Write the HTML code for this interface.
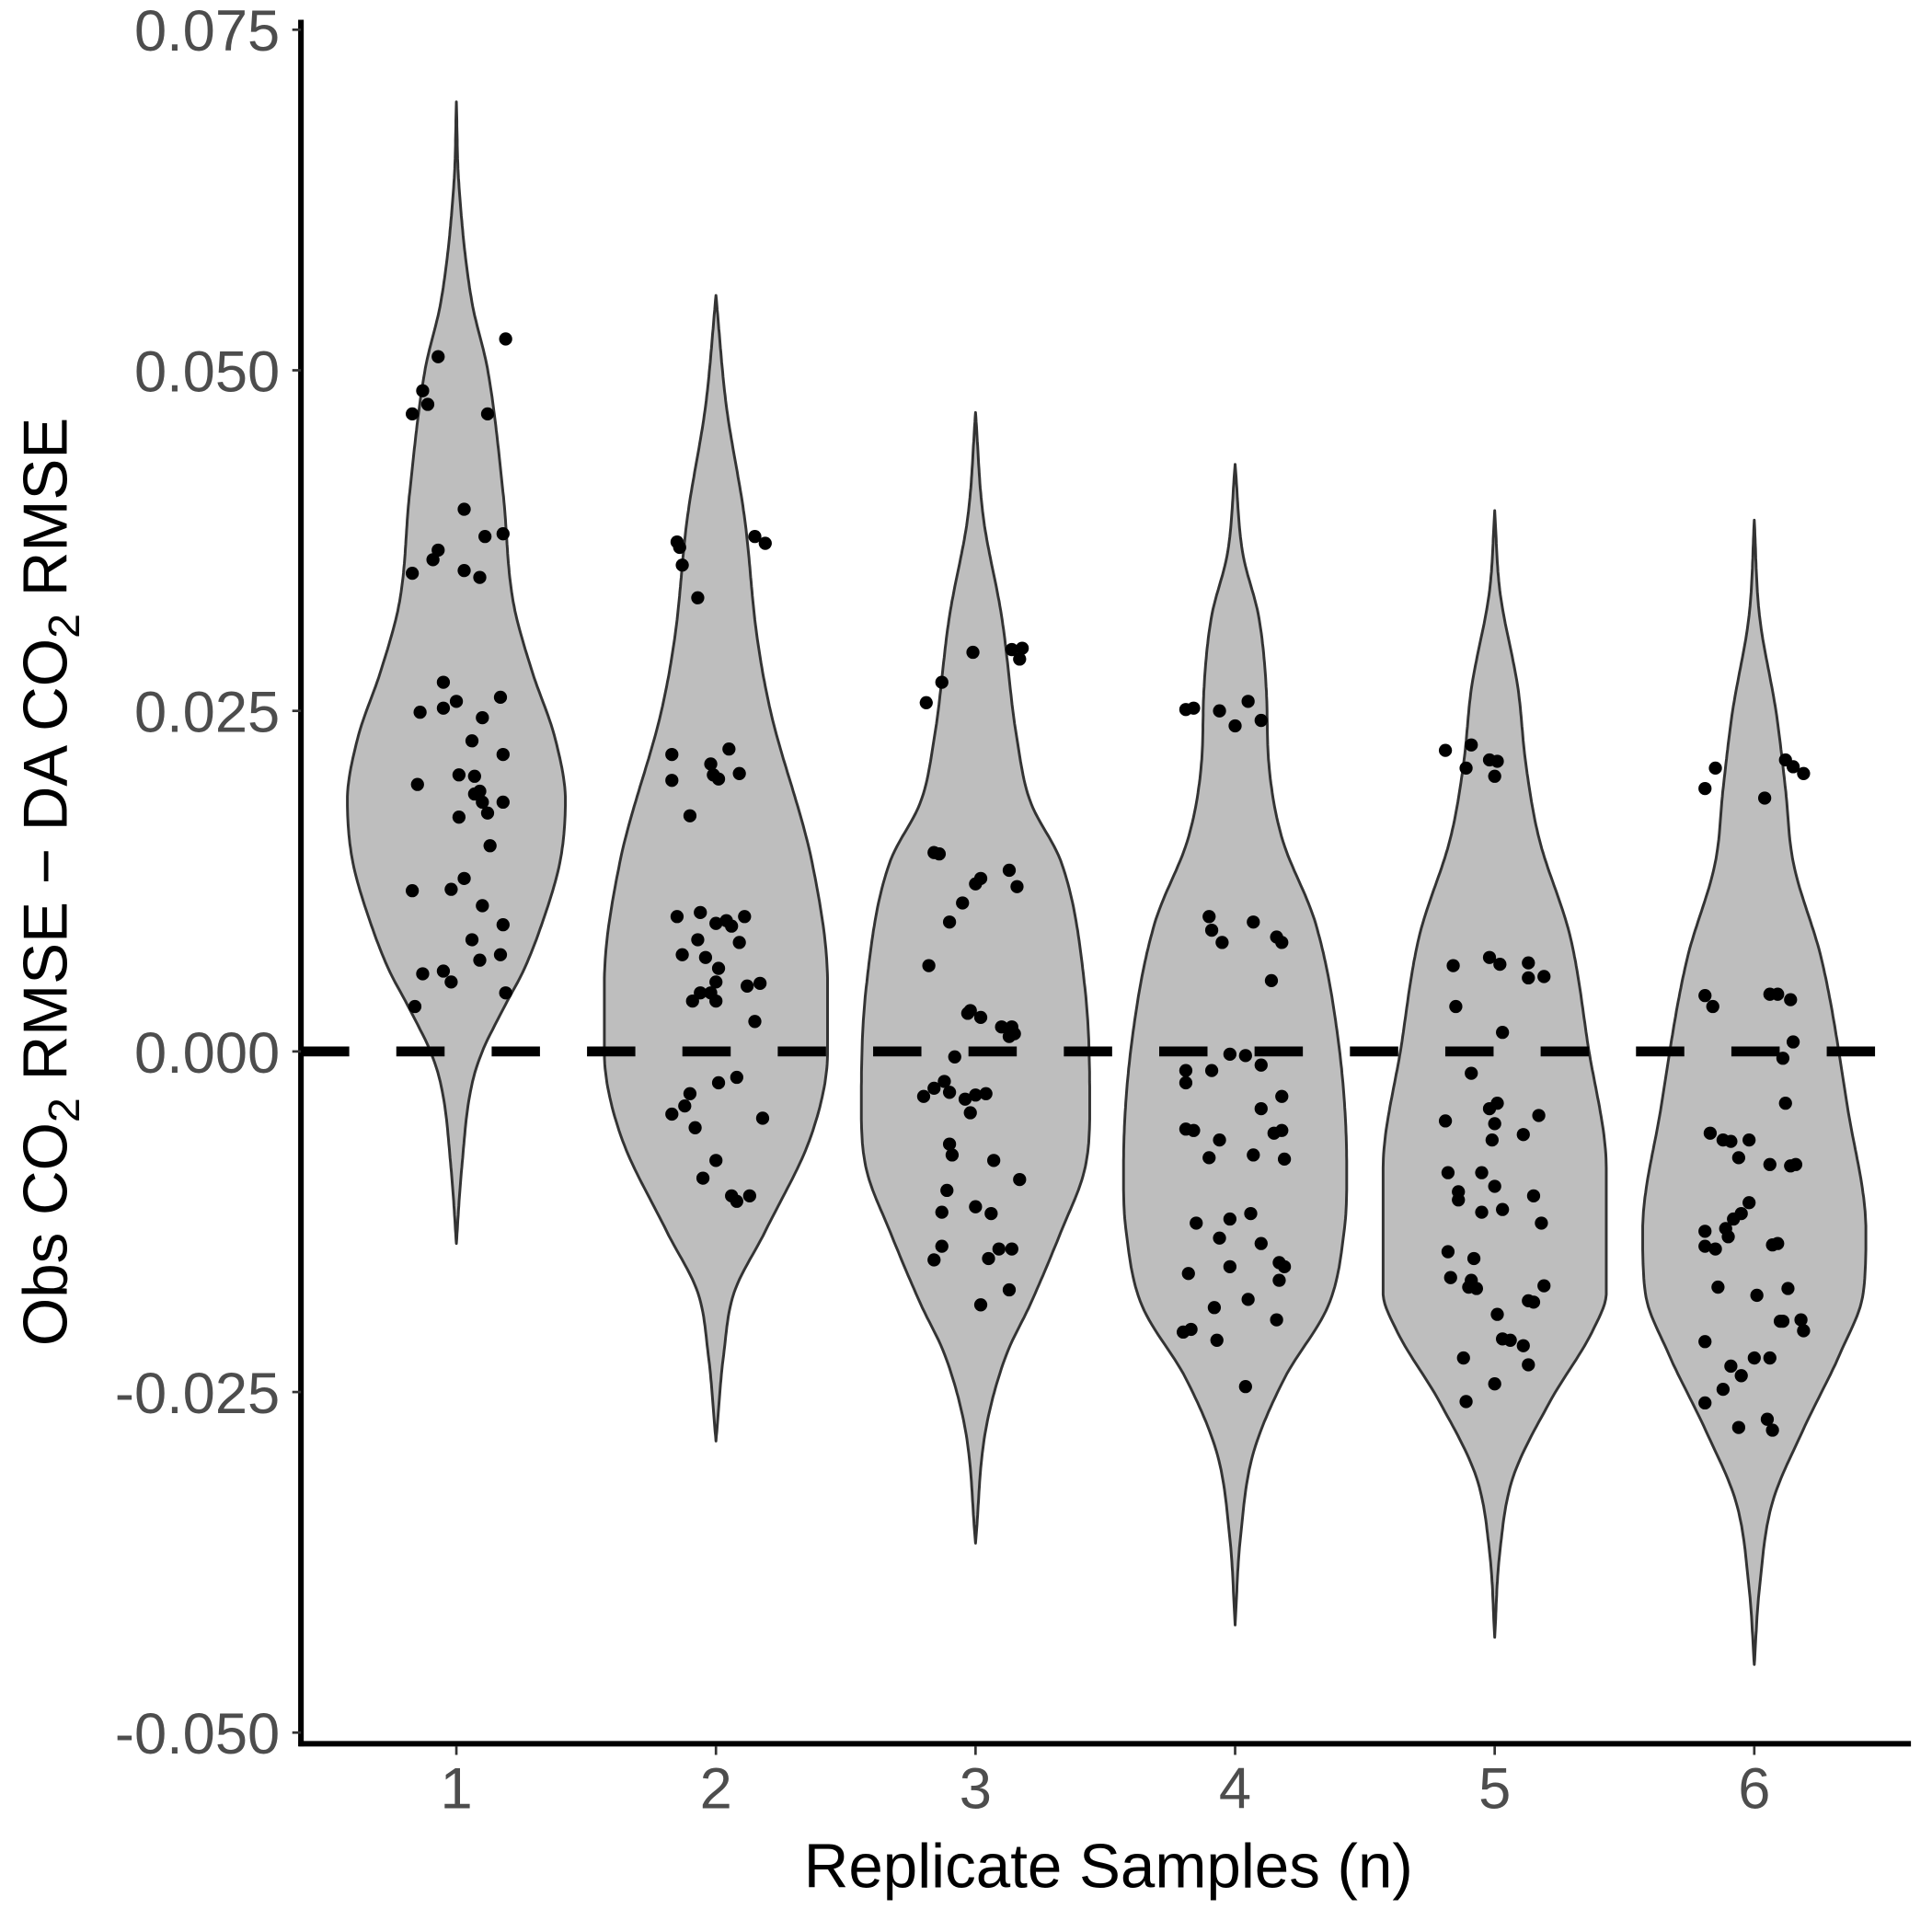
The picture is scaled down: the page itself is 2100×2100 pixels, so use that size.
<!DOCTYPE html>
<html><head><meta charset="utf-8"><style>
html,body{margin:0;padding:0;background:#fff;}
svg{display:block;}
text{font-family:"Liberation Sans",Arial,sans-serif;}
</style></head>
<body>
<svg id="chart" width="2100" height="2100" viewBox="0 0 1560 1560" xmlns="http://www.w3.org/2000/svg">
<rect x="0" y="0" width="1560" height="1560" fill="#fff"/>
<g id="violins"></g>
<g id="dots"></g>
<line x1="243" x2="1524" y1="849" y2="849" stroke="#000" stroke-width="8" stroke-dasharray="39 38"/>
<line x1="243" x2="243" y1="16" y2="1410" stroke="#000" stroke-width="4.5"/>
<line x1="241" x2="1543" y1="1408" y2="1408" stroke="#000" stroke-width="4.5"/>
<g id="yticks"></g>
<g id="xticks"></g>
<text x="895" y="1524" font-size="50" text-anchor="middle" fill="#000">Replicate Samples (n)</text>
<text transform="translate(54,712) rotate(-90)" font-size="50" text-anchor="middle" fill="#000">Obs CO<tspan font-size="36" dy="10">2</tspan><tspan dy="-10"> RMSE − DA CO</tspan><tspan font-size="36" dy="10">2</tspan><tspan dy="-10"> RMSE</tspan></text>
</svg>
<script>
// categories
const categories = ["1","2","3","4","5","6"];
// y tick values (thousandths) and labels
const yTickValues = [75, 50, 25, 0, -25, -50];
const yTickLabels = ["0.075","0.050","0.025","0.000","-0.025","-0.050"];
// violin density profiles: [value (thousandths), half width (fraction of category spacing)]
const violin1 = [[69.7,0],[63.6,0.01],[55,0.06],[50.1,0.12],[41,0.18],[32.9,0.22],[28,0.29],[23,0.38],[18.4,0.42],[14,0.40],[9.4,0.33],[6,0.26],[3.1,0.18],[0,0.10],[-2.4,0.06],[-8.7,0.02],[-14.1,0]];
const violin2 = [[55.5,0],[47.4,0.04],[39.2,0.11],[30.2,0.16],[25,0.21],[13.9,0.37],[4.9,0.43],[0,0.43],[-6,0.37],[-13.2,0.19],[-17.7,0.07],[-22.2,0.03],[-28.6,0]];
const violin3 = [[46.9,0],[39.2,0.03],[32,0.1],[22.9,0.16],[18.4,0.21],[13.9,0.33],[4.9,0.42],[-4.2,0.44],[-8.7,0.42],[-13.2,0.33],[-18.6,0.21],[-22.2,0.12],[-27.7,0.04],[-36.1,0]];
const violin4 = [[43.1,0],[36.5,0.03],[32,0.09],[26.6,0.12],[21.1,0.13],[15.7,0.18],[9.4,0.31],[0.4,0.40],[-8.7,0.43],[-13.2,0.42],[-18.6,0.36],[-24,0.19],[-29.5,0.07],[-35.8,0.02],[-42.1,0]];
const violin5 = [[39.7,0],[33.8,0.02],[26.6,0.09],[21.1,0.12],[15.7,0.17],[8.5,0.29],[0.4,0.36],[-8.7,0.43],[-17.7,0.43],[-20.4,0.38],[-25.8,0.21],[-31.3,0.07],[-36.7,0.02],[-43,0]];
const violin6 = [[39,0],[32,0.02],[24.8,0.085],[19.3,0.12],[13.9,0.15],[6.7,0.26],[-4.2,0.36],[-13.2,0.43],[-17.7,0.42],[-22.2,0.33],[-27.7,0.19],[-33.1,0.07],[-39.4,0.02],[-45,0]];
const violins = [violin1, violin2, violin3, violin4, violin5, violin6];
// points: [jitter (fraction of category spacing), value (thousandths)]
const points1 = [[-0.17,46.8],[-0.13,48.5],[-0.11,47.5],[-0.07,51.0],[0.19,52.3],[0.12,46.8],[-0.17,35.1],[-0.09,36.1],[-0.07,36.8],[0.03,39.8],[0.03,35.3],[0.09,34.8],[0.11,37.8],[0.18,38.0],[-0.05,27.1],[-0.14,24.9],[-0.05,25.2],[0,25.7],[0.06,22.8],[0.10,24.5],[0.17,26.0],[0.18,21.8],[-0.15,19.6],[0.01,20.3],[0.07,20.2],[0.07,18.9],[0.09,19.1],[0.10,18.3],[0.12,17.5],[0.18,18.3],[0.01,17.2],[0.13,15.1],[-0.17,11.8],[-0.02,11.9],[0.03,12.7],[0.10,10.7],[0.18,9.3],[0.06,8.2],[0.09,6.7],[0.17,7.1],[-0.13,5.7],[-0.05,5.9],[-0.02,5.1],[0.19,4.3],[-0.16,3.3]];
const points2 = [[-0.15,37.4],[-0.14,37.0],[-0.13,35.7],[-0.07,33.3],[0.15,37.8],[0.19,37.3],[-0.17,21.8],[-0.17,19.9],[-0.10,17.3],[-0.02,21.1],[-0.01,20.3],[0.01,20.0],[0.05,22.2],[0.09,20.4],[-0.15,9.9],[-0.06,10.2],[0,9.4],[0.04,9.6],[0.06,9.2],[0.11,9.9],[-0.07,8.2],[0.09,8.0],[-0.13,7.1],[-0.04,6.9],[0.01,6.1],[0,5.1],[-0.06,4.3],[-0.02,4.3],[0.12,4.8],[0.17,5.0],[-0.09,3.7],[0,3.7],[0.15,2.2],[-0.17,-4.6],[-0.12,-4.0],[-0.10,-3.1],[-0.08,-5.6],[0.01,-2.3],[0.08,-1.9],[0.18,-4.9],[0,-8.0],[-0.05,-9.3],[0.06,-10.6],[0.08,-11.0],[0.13,-10.6]];
const points3 = [[-0.19,25.6],[-0.13,27.1],[-0.01,29.3],[0.14,29.5],[0.18,29.6],[0.17,28.8],[-0.16,14.6],[-0.14,14.5],[-0.18,6.3],[-0.10,9.5],[-0.05,10.9],[0,12.3],[0.02,12.7],[0.13,13.3],[0.16,12.1],[-0.03,2.8],[-0.02,3.0],[0.02,2.5],[0.10,1.8],[0.14,1.8],[0.15,1.3],[0.13,1.1],[-0.08,-0.4],[-0.20,-3.3],[-0.16,-2.7],[-0.12,-2.2],[-0.10,-3.0],[-0.04,-3.5],[0,-3.2],[0.04,-3.1],[-0.02,-4.5],[-0.10,-6.8],[-0.09,-7.6],[0.07,-8.0],[0.17,-9.4],[-0.11,-10.2],[-0.13,-11.8],[0,-11.4],[0.06,-11.9],[-0.16,-15.3],[-0.13,-14.3],[0.05,-15.2],[0.09,-14.5],[0.14,-14.5],[0.13,-17.5],[0.02,-18.6]];
const points4 = [[-0.19,25.1],[-0.16,25.2],[-0.06,25.0],[0,23.9],[0.05,25.7],[0.10,24.3],[-0.10,9.9],[-0.09,8.9],[-0.05,8.0],[0.07,9.5],[0.16,8.4],[0.18,8.0],[0.14,5.2],[-0.19,-1.4],[-0.19,-2.3],[-0.09,-1.4],[-0.02,-0.2],[0.04,-0.3],[0.10,-1.0],[0.18,-3.3],[0.10,-4.2],[-0.19,-5.7],[-0.16,-5.8],[-0.06,-6.5],[0.18,-5.8],[0.15,-6.0],[0.07,-7.6],[0.19,-7.9],[-0.10,-7.8],[-0.15,-12.6],[-0.02,-12.3],[0.06,-11.9],[-0.06,-13.7],[0.10,-14.1],[0.17,-15.5],[-0.18,-16.3],[-0.02,-15.8],[0.19,-15.8],[0.17,-16.8],[-0.08,-18.8],[0.05,-18.2],[0.16,-19.7],[-0.20,-20.6],[-0.17,-20.4],[-0.07,-21.2],[0.04,-24.6]];
const points5 = [[-0.19,22.1],[-0.09,22.5],[-0.02,21.4],[0.01,21.3],[-0.11,20.8],[0,20.2],[-0.16,6.3],[-0.02,6.9],[0.02,6.4],[0.13,6.5],[0.13,5.4],[0.19,5.5],[-0.15,3.3],[0.03,1.4],[-0.09,-1.6],[-0.19,-5.1],[0.17,-4.7],[0.11,-6.1],[0.01,-3.8],[-0.02,-4.2],[0,-5.3],[-0.01,-6.5],[-0.18,-8.9],[-0.05,-8.9],[-0.14,-10.3],[0,-9.9],[-0.14,-10.9],[-0.05,-11.8],[0.03,-11.6],[0.15,-10.6],[0.18,-12.6],[-0.18,-14.7],[-0.08,-15.2],[-0.17,-16.6],[-0.09,-16.8],[-0.07,-17.4],[-0.10,-17.3],[0.13,-18.3],[0.15,-18.4],[0.19,-17.2],[0.01,-19.3],[0.03,-21.1],[0.06,-21.2],[0.11,-21.6],[0.13,-23.0],[-0.12,-22.5],[-0.11,-25.7],[0,-24.4]];
const points6 = [[-0.19,19.3],[-0.15,20.8],[0.04,18.6],[0.12,21.4],[0.15,20.9],[0.19,20.4],[-0.19,4.1],[-0.16,3.3],[0.06,4.2],[0.09,4.2],[0.14,3.8],[0.15,0.7],[0.11,-0.5],[0.12,-3.8],[-0.17,-6.0],[-0.12,-6.5],[-0.09,-6.6],[-0.02,-6.5],[-0.06,-7.8],[0.06,-8.3],[0.14,-8.4],[0.16,-8.3],[-0.02,-11.1],[-0.05,-11.9],[-0.08,-12.3],[-0.11,-13.0],[-0.19,-13.2],[-0.15,-14.5],[-0.10,-13.6],[-0.19,-14.3],[0.07,-14.2],[0.09,-14.1],[-0.14,-17.3],[0.01,-17.9],[0.13,-17.4],[0.10,-19.8],[0.11,-19.8],[0.18,-19.7],[0.19,-20.5],[-0.19,-21.3],[-0.05,-23.8],[0,-22.5],[-0.09,-23.1],[-0.12,-24.8],[0.06,-22.5],[-0.19,-25.8],[-0.06,-27.6],[0.05,-27.0],[0.07,-27.8]];
const pointGroups = [points1, points2, points3, points4, points5, points6];

const NS = "http://www.w3.org/2000/svg";
const X0 = 368.5, XSTEP = 209.6, Y0 = 849, YPER = 275 / 25;
function xScale(i) { return X0 + XSTEP * i; }
function wScale(f) { return f * XSTEP; }
function yScale(v) { return Y0 - v * YPER; }

// monotone cubic interpolation of width as a function of value
function widthFn(prof) {
  const xs = prof.map(p => -p[0]), ys = prof.map(p => p[1]);
  const n = xs.length, d = [], m = [];
  for (let i = 0; i < n - 1; i++) d.push((ys[i + 1] - ys[i]) / (xs[i + 1] - xs[i]));
  m[0] = d[0]; m[n - 1] = d[n - 2];
  for (let i = 1; i < n - 1; i++) m[i] = (d[i - 1] * d[i] <= 0) ? 0 : (d[i - 1] + d[i]) / 2;
  for (let i = 0; i < n - 1; i++) {
    if (d[i] === 0) { m[i] = 0; m[i + 1] = 0; continue; }
    const a = m[i] / d[i], b = m[i + 1] / d[i], s = a * a + b * b;
    if (s > 9) { const t = 3 / Math.sqrt(s); m[i] = t * a * d[i]; m[i + 1] = t * b * d[i]; }
  }
  return function (v) {
    const x = -v;
    let i = 0;
    while (i < n - 2 && x > xs[i + 1]) i++;
    const h = xs[i + 1] - xs[i], t = (x - xs[i]) / h;
    const h00 = 2*t*t*t - 3*t*t + 1, h10 = t*t*t - 2*t*t + t, h01 = -2*t*t*t + 3*t*t, h11 = t*t*t - t*t;
    return Math.max(0, h00 * ys[i] + h10 * h * m[i] + h01 * ys[i + 1] + h11 * h * m[i + 1]);
  };
}

const gV = document.getElementById("violins");
violins.forEach((prof, i) => {
  const cx = xScale(i);
  const f = widthFn(prof);
  const top = prof[0][0], bot = prof[prof.length - 1][0];
  const N = 240, right = [], left = [];
  for (let k = 0; k <= N; k++) {
    const v = top + (bot - top) * k / N;
    const w = wScale(f(v));
    right.push((cx + w).toFixed(1) + "," + yScale(v).toFixed(1));
    left.unshift((cx - w).toFixed(1) + "," + yScale(v).toFixed(1));
  }
  const path = document.createElementNS(NS, "path");
  path.setAttribute("d", "M" + right.concat(left).join(" L") + " Z");
  path.setAttribute("fill", "#bebebe");
  path.setAttribute("stroke", "#333");
  path.setAttribute("stroke-width", "2.2");
  path.setAttribute("stroke-linejoin", "round");
  
  
  gV.appendChild(path);
});

const gD = document.getElementById("dots");
pointGroups.forEach((grp, i) => {
  grp.forEach(p => {
    const c = document.createElementNS(NS, "circle");
    c.setAttribute("cx", (xScale(i) + wScale(p[0])).toFixed(1));
    c.setAttribute("cy", yScale(p[1]).toFixed(1));
    c.setAttribute("r", "5.3");
    c.setAttribute("fill", "#000");
    
    
    gD.appendChild(c);
  });
});

const gY = document.getElementById("yticks");
yTickValues.forEach((v, i) => {
  const y = yScale(v);
  const l = document.createElementNS(NS, "line");
  l.setAttribute("x1", "236"); l.setAttribute("x2", "243");
  l.setAttribute("y1", y); l.setAttribute("y2", y);
  l.setAttribute("stroke", "#333"); l.setAttribute("stroke-width", "2");
  
  
  gY.appendChild(l);
  const t = document.createElementNS(NS, "text");
  t.setAttribute("x", "226"); t.setAttribute("y", y + 17);
  t.setAttribute("font-size", "47"); t.setAttribute("text-anchor", "end");
  t.setAttribute("fill", "#4d4d4d");
  t.textContent = yTickLabels[i];
  
  
  gY.appendChild(t);
});

const gX = document.getElementById("xticks");
categories.forEach((c, i) => {
  const x = xScale(i);
  const l = document.createElementNS(NS, "line");
  l.setAttribute("x1", x); l.setAttribute("x2", x);
  l.setAttribute("y1", "1410"); l.setAttribute("y2", "1417");
  l.setAttribute("stroke", "#333"); l.setAttribute("stroke-width", "2");
  
  
  gX.appendChild(l);
  const t = document.createElementNS(NS, "text");
  t.setAttribute("x", x); t.setAttribute("y", "1460");
  t.setAttribute("font-size", "47"); t.setAttribute("text-anchor", "middle");
  t.setAttribute("fill", "#4d4d4d");
  t.textContent = c;
  
  
  gX.appendChild(t);
});
</script>
</body></html>
